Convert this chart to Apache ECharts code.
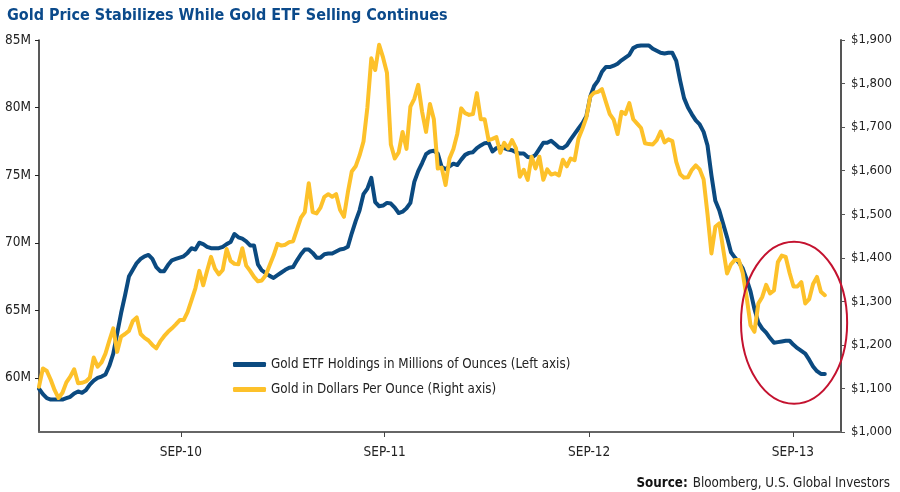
<!DOCTYPE html>
<html><head><meta charset="utf-8">
<script src="https://cdn.jsdelivr.net/npm/echarts@6/dist/echarts.min.js"></script>
<style>html,body{margin:0;padding:0;background:#fff}#c{width:900px;height:492px}</style>
</head><body><div id="c"></div>
<script>
// ---- data (weekly) ----
const startDate = '2010-01-01';
const etfHoldings = [ // millions of ounces (left axis)
59.2,58.8,58.5,58.4,58.4,58.4,58.4,58.5,58.6,58.85,59.0,58.9,59.1,59.5,59.8,60.0,60.1,60.25,60.9,61.8,
63.3,64.8,66.1,67.5,68.0,68.5,68.8,69.0,69.1,68.8,68.2,67.9,67.9,68.35,68.7,68.8,68.9,69.0,69.25,69.6,
69.5,70.0,69.9,69.7,69.6,69.6,69.6,69.7,69.9,70.05,70.65,70.4,70.3,70.1,69.8,69.8,68.4,67.95,67.75,67.55,
67.4,67.6,67.8,68.0,68.15,68.2,68.7,69.15,69.5,69.5,69.25,68.9,68.9,69.15,69.2,69.2,69.35,69.5,69.55,69.7,
70.7,71.6,72.4,73.6,74.0,74.8,73.0,72.7,72.75,72.95,72.9,72.6,72.2,72.3,72.55,72.95,74.5,75.3,75.9,76.55,
76.75,76.8,76.6,75.6,75.45,75.65,75.85,75.75,76.15,76.5,76.65,76.7,77.0,77.2,77.37,77.4,76.75,77.0,77.1,77.0,
76.9,76.85,76.7,76.6,76.6,76.35,76.3,76.5,76.95,77.4,77.4,77.55,77.3,77.05,77.0,77.2,77.65,78.05,78.45,78.85,
79.35,80.8,81.6,82.0,82.65,83.0,83.0,83.1,83.25,83.5,83.7,83.9,84.4,84.55,84.6,84.6,84.6,84.35,84.2,84.05,
84.0,84.05,84.05,83.45,82.0,80.7,80.0,79.5,79.05,78.75,78.2,77.2,75.0,73.1,72.4,71.4,70.4,69.3,68.9,68.55,
68.1,67.3,66.4,65.1,64.1,63.65,63.35,62.95,62.6,62.65,62.7,62.75,62.75,62.45,62.2,62.0,61.8,61.35,60.85,60.5,
60.3,60.3
];
const goldPrice = [ // dollars per ounce (right axis)
1104,1146,1140,1120,1096,1078,1090,1114,1127,1144,1112,1113,1116,1125,1171,1150,1160,1180,1210,1238,
1184,1219,1225,1232,1255,1263,1225,1216,1210,1200,1192,1208,1220,1230,1238,1247,1257,1257,1275,1302,
1330,1370,1337,1370,1402,1375,1362,1372,1420,1393,1386,1385,1422,1382,1370,1356,1346,1348,1360,1383,
1405,1432,1428,1430,1436,1438,1465,1492,1505,1571,1505,1502,1515,1540,1546,1540,1546,1510,1494,1550,
1598,1610,1635,1667,1745,1858,1831,1889,1860,1825,1660,1628,1642,1689,1650,1747,1765,1797,1735,1689,
1753,1718,1605,1607,1567,1628,1650,1685,1743,1732,1728,1730,1778,1718,1718,1670,1673,1677,1641,1664,
1651,1670,1652,1586,1602,1579,1632,1605,1632,1579,1603,1591,1594,1589,1625,1610,1628,1624,1674,1696,
1722,1770,1779,1781,1787,1758,1730,1717,1684,1735,1730,1755,1718,1708,1698,1663,1661,1660,1670,1690,
1665,1672,1668,1620,1592,1584,1585,1602,1612,1603,1580,1500,1410,1471,1479,1420,1364,1385,1395,1395,
1365,1310,1245,1230,1295,1310,1338,1318,1325,1390,1405,1402,1365,1334,1334,1344,1295,1305,1340,1356,
1322,1314
];
const xTickLabels = ['SEP-10','SEP-11','SEP-12','SEP-13'];
const xTickDates = ['2010-09-12','2011-09-12','2012-09-12','2013-09-12'];
const leftTicks = [60,65,70,75,80,85];
const seriesNames = ['Gold ETF Holdings in Millions of Ounces (Left axis)','Gold in Dollars Per Ounce (Right axis)'];

// ---- build ----
const DAY = 86400000;
const t0 = Date.parse(startDate + 'T00:00:00Z');
const dates = etfHoldings.map((_, i) => t0 + i * 7 * DAY);
const tickVals = xTickDates.map(d => Date.parse(d + 'T00:00:00Z'));
const FONT = '"DejaVu Sans Condensed","Liberation Sans Narrow","Roboto",sans-serif';
const BLUE = '#0b4a80', GOLD = '#fdc12a';

const chart = echarts.init(document.getElementById('c'), null, {renderer: 'canvas'});
chart.setOption({
  animation: false,
  backgroundColor: '#fff',
  title: [{
    text: 'Gold Price Stabilizes While Gold ETF Selling Continues',
    left: 2, top: 3,
    textStyle: {fontFamily: FONT, fontSize: 16, fontWeight: 'bold', color: '#0b4a8b'}
  }, {
    text: '{b|Source:} {n|Bloomberg, U.S. Global Investors}',
    right: 5, top: 470,
    textStyle: {fontWeight: 'normal', rich: {
      b: {fontFamily: FONT, fontSize: 13.3, fontWeight: 'bold', color: '#111'},
      n: {fontFamily: FONT, fontSize: 13.3, fontWeight: 'normal', color: '#222'}
    }}
  }],
  legend: {
    orient: 'vertical', left: 228, top: 353,
    icon: 'roundRect', itemWidth: 33, itemHeight: 5, itemGap: 12,
    textStyle: {fontFamily: FONT, fontSize: 13.3, color: '#222'},
    data: seriesNames
  },
  grid: {left: 39, right: 59, top: 40, bottom: 60, containLabel: false},
  xAxis: {
    type: 'value', min: t0, max: t0 + 1436 * DAY,
    splitLine: {show: false},
    axisLine: {lineStyle: {color: '#666', width: 2}},
    axisTick: {customValues: tickVals, length: 5, lineStyle: {color: '#444', width: 1}},
    axisLabel: {customValues: tickVals, margin: 13, fontFamily: FONT, fontSize: 13.5, color: '#222',
      formatter: v => xTickLabels[tickVals.indexOf(v)] || ''}
  },
  yAxis: [{
    type: 'value', min: 56, max: 85, position: 'left',
    splitLine: {show: false},
    axisLine: {show: true, lineStyle: {color: '#222', width: 1.5}},
    axisTick: {show: true, customValues: leftTicks, inside: false, length: 4, lineStyle: {color: '#222'}},
    axisLabel: {customValues: leftTicks, margin: 8, fontFamily: FONT, fontSize: 13.5, color: '#222',
      formatter: v => v + 'M'}
  }, {
    type: 'value', min: 1000, max: 1900, interval: 100, position: 'right',
    splitLine: {show: false},
    axisLine: {show: true, lineStyle: {color: '#555', width: 2}},
    axisTick: {show: true, length: 4, lineStyle: {color: '#555'}},
    axisLabel: {margin: 10, fontFamily: FONT, fontSize: 13, color: '#222',
      formatter: v => '$' + v.toLocaleString('en-US')}
  }],
  series: [{
    name: seriesNames[0], type: 'line', yAxisIndex: 0, symbol: 'none', color: BLUE, z: 2,
    lineStyle: {width: 4, color: BLUE, cap: 'round', join: 'round'},
    data: dates.map((d, i) => [d, etfHoldings[i]])
  }, {
    name: seriesNames[1], type: 'line', yAxisIndex: 1, symbol: 'none', color: GOLD, z: 3,
    lineStyle: {width: 4, color: GOLD, cap: 'round', join: 'round'},
    data: dates.map((d, i) => [d, goldPrice[i]])
  }]
});

// highlight ellipse, placed in data space (date, gold $)
const ring = {center: ['2013-09-14', 1251], halfDays: 95, halfDollars: 186};
const cT = Date.parse(ring.center[0] + 'T00:00:00Z');
const c = chart.convertToPixel({xAxisIndex: 0, yAxisIndex: 1}, [cT, ring.center[1]]);
const e = chart.convertToPixel({xAxisIndex: 0, yAxisIndex: 1}, [cT + ring.halfDays * DAY, ring.center[1] + ring.halfDollars]);
chart.setOption({graphic: [{
  type: 'ellipse', z: 100,
  shape: {cx: c[0], cy: c[1], rx: Math.abs(e[0] - c[0]), ry: Math.abs(c[1] - e[1])},
  style: {fill: 'none', stroke: '#c4122f', lineWidth: 2}
}]});
</script></body></html>
